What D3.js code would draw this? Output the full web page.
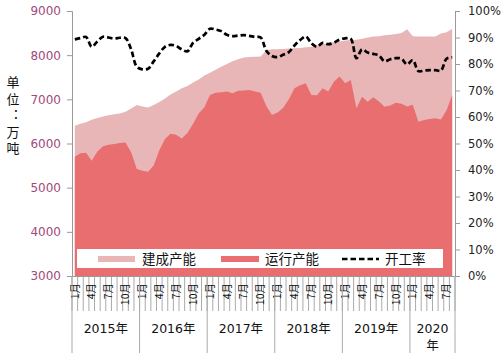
<!DOCTYPE html>
<html><head><meta charset="utf-8">
<script src="https://cdn.jsdelivr.net/npm/d3@7"></script>
<style>body{margin:0;background:#fff}svg{display:block}</style>
</head><body>
<svg id="c" width="504" height="357"></svg>
<script>
const years = ["2015年","2016年","2017年","2018年","2019年","2020年"];
const monthsPerYear = [12,12,12,12,12,8];
const monthTickLabels = {0:"1月",3:"4月",6:"7月",9:"10月"};
const leftTicks = [3000,4000,5000,6000,7000,8000,9000];
const rightTicks = [0,0.1,0.2,0.3,0.4,0.5,0.6,0.7,0.8,0.9,1.0];
const seriesNames = ["建成产能","运行产能","开工率"];
const unitLabel = "单位：万吨";

// 建成产能 (万吨)
const built = [6400,6450,6480,6540,6580,6610,6640,6665,6680,6720,6790,6870,
  6840,6815,6870,6940,7020,7110,7180,7250,7300,7380,7450,7540,
  7600,7670,7740,7800,7860,7910,7950,7960,7965,7970,8110,8135,
  8135,8140,8150,8155,8165,8180,8190,8220,8250,8270,8290,8310,
  8330,8345,8350,8370,8400,8420,8430,8450,8460,8480,8500,8585,
  8430,8420,8420,8420,8420,8490,8520,8600];
// 运行产能 (万吨)
const running = [5700,5780,5790,5610,5820,5940,5970,5990,6010,6020,5800,5420,
  5385,5360,5500,5850,6100,6220,6200,6115,6240,6450,6680,6820,
  7100,7150,7160,7175,7135,7195,7200,7210,7175,7150,6850,6645,
  6700,6810,7000,7250,7320,7365,7100,7090,7250,7180,7400,7515,
  7365,7440,6800,7060,6946,7045,6950,6830,6860,6920,6900,6840,
  6880,6495,6530,6555,6570,6545,6755,7100];
// 开工率 (%)
const rate = [89.3,89.8,90.2,86.5,88.5,90.3,90.0,89.6,89.9,89.8,85.5,79.0,
  78.0,78.2,81.0,84.0,86.5,87.2,86.8,85.5,84.8,88.0,89.5,91.0,
  93.3,93.0,92.4,91.0,90.5,90.7,90.9,90.6,90.2,90.0,85.0,83.0,
  82.6,83.5,84.5,87.0,89.0,90.4,87.8,86.5,88.0,87.5,88.0,89.2,
  89.7,89.5,82.2,85.5,84.3,83.8,83.2,81.0,81.8,82.2,82.0,79.8,
  81.5,77.3,77.5,77.7,77.7,77.5,82.0,82.5];

// categories
const cats = [];
years.forEach((y,yi)=>{ for(let m=0;m<monthsPerYear[yi];m++) cats.push({year:yi, m}); });
const idx = d3.range(cats.length);

const svg = d3.select("#c");
const L = 72, R = 455, T = 11, B = 276;
const x = d3.scaleBand().domain(idx).range([L,R]).paddingInner(0).paddingOuter(0);
const cx = i => x(i) + x.bandwidth()/2;
const yL = d3.scaleLinear().domain([3000,9000]).range([B,T]);
const yR = d3.scaleLinear().domain([0,1]).range([B,T]);

const cLight = "#e9b6b7", cDark = "#e86e70";

// areas
const area = d3.area().x((d,i)=>cx(i)).y0(B).y1(d=>yL(d));
svg.append("path").datum(built).attr("d",area).attr("fill",cLight);
svg.append("path").datum(running).attr("d",area).attr("fill",cDark);

// line
const line = d3.line().x((d,i)=>cx(i)).y(d=>yR(d/100)).curve(d3.curveCatmullRom.alpha(0.5));
svg.append("path").datum(rate).attr("d",line).attr("fill","none")
  .attr("stroke","#000").attr("stroke-width",2.7).attr("stroke-dasharray","5.5,3");

// left axis
const gl = svg.append("g").attr("transform",`translate(${L},0)`)
  .call(d3.axisLeft(yL).tickValues(leftTicks).tickSize(5).tickPadding(6).tickFormat(d3.format("d")));
gl.select(".domain").attr("stroke","#999");
gl.selectAll(".tick line").attr("stroke","#999");
gl.selectAll("text").attr("fill","#a04a7c").style("font-family","DejaVu Sans").style("font-size","12px");

// right axis
const gr = svg.append("g").attr("transform",`translate(${R},0)`)
  .call(d3.axisRight(yR).tickValues(rightTicks).tickSize(5).tickPadding(8).tickFormat(d3.format(".0%")));
gr.select(".domain").attr("stroke","#999");
gr.selectAll(".tick line").attr("stroke","#999");
gr.selectAll("text").attr("fill","#222").style("font-family","DejaVu Sans").style("font-size","11.5px");

// bottom axis: month boundary ticks
const boundaries = idx.map(i=>x(i)).concat([R]);
svg.append("g").selectAll("line").data(boundaries).join("line")
  .attr("x1",d=>d).attr("x2",d=>d).attr("y1",B).attr("y2",311)
  .attr("stroke","#aaa").attr("stroke-width",1);
svg.append("line").attr("x1",L).attr("x2",R).attr("y1",B+0.5).attr("y2",B+0.5).attr("stroke","#999");

// month labels
const labIdx = idx.filter(i=>monthTickLabels[cats[i].m]!==undefined);
const gb = svg.append("g").attr("transform",`translate(0,${B})`)
  .call(d3.axisBottom(x).tickValues(labIdx).tickSize(0).tickFormat(i=>monthTickLabels[cats[i].m]));
gb.select(".domain").remove();
gb.selectAll("text").attr("transform","rotate(-90)").attr("x",-7).attr("y",0).attr("dy","0.35em")
  .style("text-anchor","end").style("font-family","Noto Sans CJK SC").style("font-size","10.5px").attr("fill","#111");

// year separators and labels
let start = 0;
const yearStarts = monthsPerYear.map((n)=>{ const s=start; start+=n; return s; });
const sepX = yearStarts.map(s=>x(s)).concat([R]);
svg.append("g").selectAll("line").data(sepX).join("line")
  .attr("x1",d=>d).attr("x2",d=>d).attr("y1",B).attr("y2",353)
  .attr("stroke","#aaa").attr("stroke-width",1);
years.forEach((yl,yi)=>{
  const x0 = sepX[yi], x1 = sepX[yi+1], mid=(x0+x1)/2;
  const t = svg.append("text").attr("x",mid).attr("y",333).attr("text-anchor","middle")
    .style("font-family","DejaVu Sans, Noto Sans CJK SC").style("font-size","12.5px").attr("fill","#111");
  if (x1-x0 < 55) {
    t.append("tspan").attr("x",mid).text(yl.slice(0,4));
    t.append("tspan").attr("x",mid).attr("dy",17).text(yl.slice(4));
  } else t.text(yl);
});

// legend
const lg = svg.append("g");
lg.append("rect").attr("x",77).attr("y",249).attr("width",366).attr("height",19).attr("fill","#fff");
const legFont = "Noto Sans CJK SC";
lg.append("rect").attr("x",98).attr("y",256).attr("width",37).attr("height",6).attr("fill",cLight);
lg.append("text").attr("x",142).attr("y",263.5).text(seriesNames[0]).style("font-family",legFont).style("font-size","13.5px").attr("fill","#111");
lg.append("rect").attr("x",221).attr("y",256).attr("width",38).attr("height",6).attr("fill",cDark);
lg.append("text").attr("x",265).attr("y",263.5).text(seriesNames[1]).style("font-family",legFont).style("font-size","13.5px").attr("fill","#111");
lg.append("line").attr("x1",342).attr("x2",379).attr("y1",259).attr("y2",259).attr("stroke","#000").attr("stroke-width",2.7).attr("stroke-dasharray","5.5,3");
lg.append("text").attr("x",385).attr("y",263.5).text(seriesNames[2]).style("font-family",legFont).style("font-size","13.5px").attr("fill","#111");

// unit label (vertical, single text element)
svg.append("text").attr("x",13).attr("y",76)
  .style("writing-mode","vertical-rl").style("text-orientation","upright")
  .style("font-family","Noto Sans CJK SC").style("font-size","13px").style("letter-spacing","3.5px")
  .attr("fill","#111").text(unitLabel);
</script>
</body></html>
